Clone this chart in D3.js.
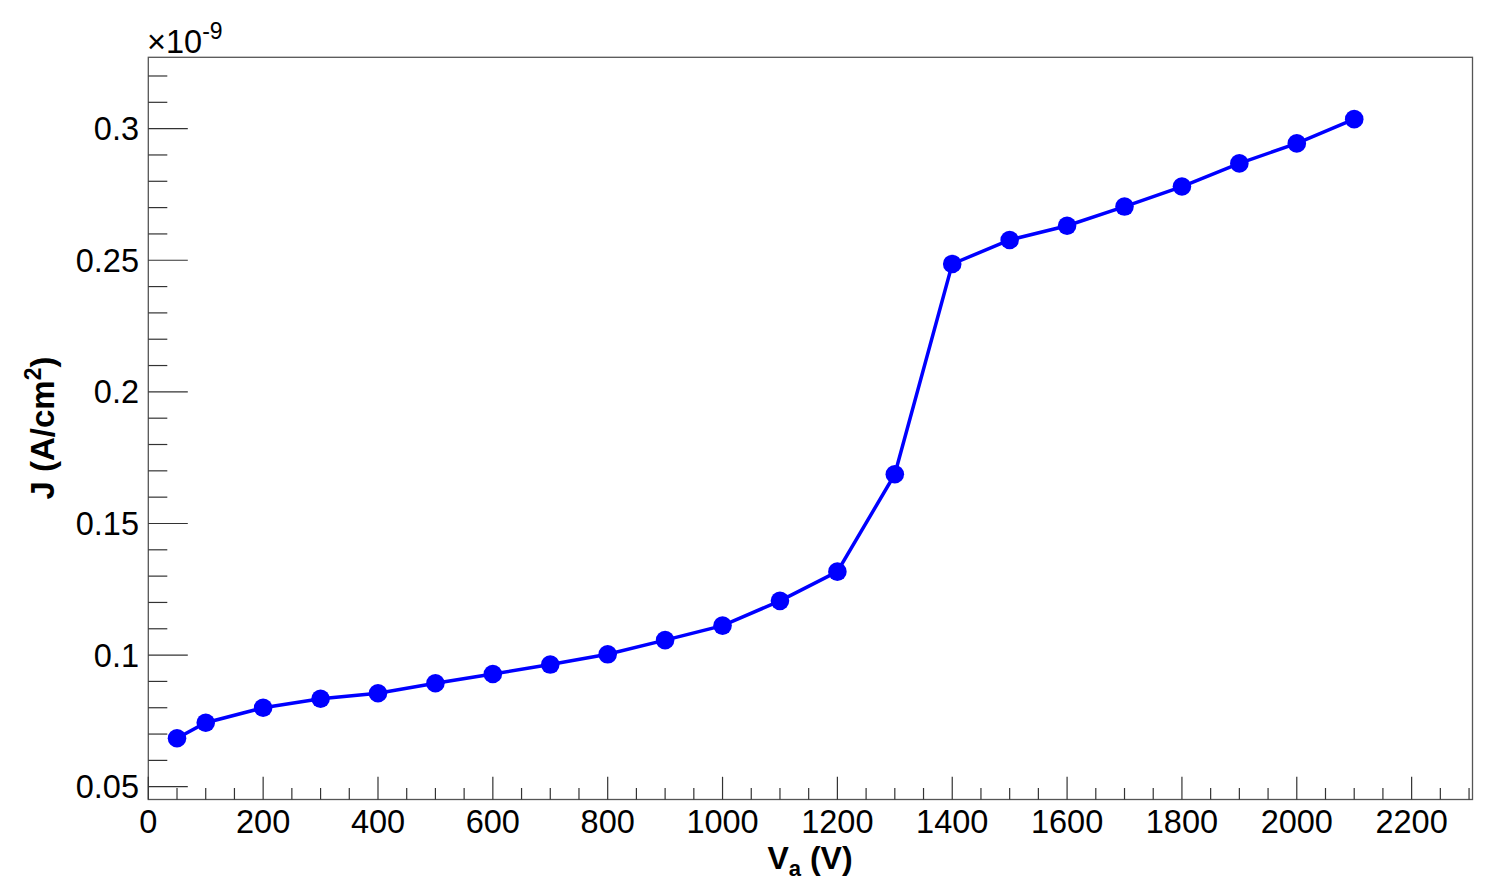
<!DOCTYPE html>
<html>
<head>
<meta charset="utf-8">
<script src="https://cdn.jsdelivr.net/npm/d3@7"></script>
<style>
  html, body { margin: 0; padding: 0; background: #fff; }
  svg { display: block; font-family: "Liberation Sans", Arial, sans-serif; }
</style>
</head>
<body>
<svg id="chart" width="1504" height="889"></svg>
<script>
// ---- data ----
const voltages = [50, 100, 200, 300, 400, 500, 600, 700, 800, 900, 1000, 1100, 1200, 1300, 1400, 1500, 1600, 1700, 1800, 1900, 2000, 2100];
const currentDensity = [0.0684, 0.0743, 0.0800, 0.0834, 0.0855, 0.0893, 0.0928, 0.0964, 0.1003, 0.1057, 0.1112, 0.1206, 0.1317, 0.1687, 0.2486, 0.2577, 0.2631, 0.2704, 0.2780, 0.2868, 0.2944, 0.3036]; // x 1e-9 A/cm^2
const xTickLabels = [0, 200, 400, 600, 800, 1000, 1200, 1400, 1600, 1800, 2000, 2200];
const yTickLabels = [0.05, 0.1, 0.15, 0.2, 0.25, 0.3];
const xDomain = [0, 2306];
const yDomain = [0.04514, 0.3271];

const svg = d3.select("#chart");
const L = 148.3, R = 1472.5, T = 57.3, B = 799.5;
const x = d3.scaleLinear().domain(xDomain).range([L, R]);
const y = d3.scaleLinear().domain(yDomain).range([B, T]);

const axisColor = "#555";

// frame
svg.append("rect").attr("x", L).attr("y", T).attr("width", R - L).attr("height", B - T)
  .attr("fill", "none").attr("stroke", axisColor).attr("stroke-width", 1.3);

// x ticks
const xMinor = d3.range(0, xDomain[1] + 1, 50);
svg.append("g").selectAll("line").data(xMinor).join("line")
  .attr("x1", d => x(d)).attr("x2", d => x(d))
  .attr("y1", B).attr("y2", d => B - (d % 200 === 0 ? 22.7 : 11.5))
  .attr("stroke", "#333").attr("stroke-width", 1.2);

svg.append("g").selectAll("text").data(xTickLabels).join("text")
  .attr("x", d => x(d)).attr("y", 833)
  .attr("text-anchor", "middle").attr("font-size", 32.5).attr("fill", "#000")
  .text(d => d);

// y ticks
const yMinor2 = d3.range(4, 33).map(i => +(i * 0.01).toFixed(3)).filter(v => v >= yDomain[0] && v <= yDomain[1]);
svg.append("g").selectAll("line").data(yMinor2).join("line")
  .attr("x1", L).attr("x2", d => L + (Math.abs(d * 20 - Math.round(d * 20)) < 1e-6 ? 39.5 : 19))
  .attr("y1", d => y(d)).attr("y2", d => y(d))
  .attr("stroke", "#333").attr("stroke-width", 1.2);

svg.append("g").selectAll("text").data(yTickLabels).join("text")
  .attr("x", 139).attr("y", d => y(d) + 11.5)
  .attr("text-anchor", "end").attr("font-size", 32.5).attr("fill", "#000")
  .text(d => d3.format("")(d));

// exponent
const ex = svg.append("text").attr("x", 147).attr("y", 53).attr("font-size", 32.5).attr("fill", "#000");
ex.append("tspan").text("\u00d710");
ex.append("tspan").attr("dy", -14).attr("font-size", 23).text("-9");

// axis titles
const xt = svg.append("text").attr("x", 810).attr("y", 869).attr("text-anchor", "middle")
  .attr("font-size", 32).attr("font-weight", "bold").attr("fill", "#000");
xt.append("tspan").text("V");
xt.append("tspan").attr("dy", 7).attr("font-size", 22).text("a");
xt.append("tspan").attr("dy", -7).text(" (V)");

const yt = svg.append("text").attr("transform", "translate(54,428) rotate(-90)").attr("text-anchor", "middle")
  .attr("font-size", 33).attr("font-weight", "bold").attr("fill", "#000");
yt.append("tspan").text("J (A/cm");
yt.append("tspan").attr("dy", -13).attr("font-size", 23).text("2");
yt.append("tspan").attr("dy", 13).text(")");

// series
const pts = voltages.map((v, i) => [v, currentDensity[i]]);
svg.append("path").datum(pts)
  .attr("d", d3.line().x(d => x(d[0])).y(d => y(d[1])))
  .attr("fill", "none").attr("stroke", "#0000ff").attr("stroke-width", 3.5);
svg.append("g").selectAll("circle").data(pts).join("circle")
  .attr("cx", d => x(d[0])).attr("cy", d => y(d[1])).attr("r", 9.3)
  .attr("fill", "#0000ff");
</script>
</body>
</html>
